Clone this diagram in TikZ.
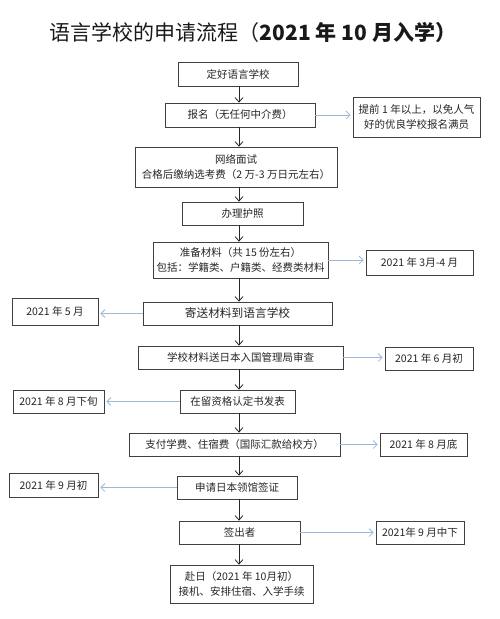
\documentclass[tikz,border=0pt]{standalone}
\usepackage{fontspec}
\setmainfont{Noto Sans CJK SC}
\usetikzlibrary{arrows.meta}
\definecolor{boxc}{HTML}{404040}
\definecolor{sidec}{HTML}{9CB9DA}
\begin{document}
\begin{tikzpicture}[x=1pt,y=-1pt,
  bx/.style={draw=boxc, line width=0.75pt, fill=white, inner sep=0pt, align=center,
    font=\fontsize{10.5}{14.5}\selectfont, text=black!85},
  mainarr/.style={draw=black!85, line width=0.8pt,
    -{Straight Barb[length=4.5pt,width=8pt,line width=0.8pt]}},
  sidearr/.style={draw=sidec, line width=0.8pt,
    -{Straight Barb[length=4pt,width=8pt,line width=0.8pt]}, shorten >=2pt}]
\useasboundingbox (0,0) rectangle (500,619);
\node[font=\fontsize{21}{25}\selectfont, text=black!90] (t) at (253,32)
  {语言学校的申请流程（\textbf{2021 年 10 月入学）}};
\coordinate (ax) at (239,0);
% main column
\node[bx, minimum width=120pt, minimum height=24pt] (b1) at (238,74) {定好语言学校};
\node[bx, minimum width=150pt, minimum height=24pt] (b2) at (240,115) {报名（无任何中介费）};
\node[bx, minimum width=202pt, minimum height=40pt] (b3) at (236,167) {网络面试\\合格后缴纳选考费（2 万-3 万日元左右）};
\node[bx, minimum width=121pt, minimum height=23pt] (b4) at (242.5,213.5) {办理护照};
\node[bx, minimum width=175pt, minimum height=36pt] (b5) at (240.5,260) {准备材料（共 15 份左右）\\包括：学籍类、户籍类、经费类材料};
\node[bx, minimum width=189pt, minimum height=23pt, font=\fontsize{11.7}{14}\selectfont] (b6) at (237.5,313.5) {寄送材料到语言学校};
\node[bx, minimum width=205pt, minimum height=23pt] (b7) at (240.5,357.5) {学校材料送日本入国管理局审查};
\node[bx, minimum width=115pt, minimum height=23pt] (b8) at (237.5,401.5) {在留资格认定书发表};
\node[bx, minimum width=211pt, minimum height=23pt] (b9) at (234.5,444.5) {支付学费、住宿费（国际汇款给校方）};
\node[bx, minimum width=120pt, minimum height=23pt] (b10) at (237,487.5) {申请日本领馆签证};
\node[bx, minimum width=121pt, minimum height=23pt] (b11) at (239.5,532.5) {签出者};
\node[bx, minimum width=143pt, minimum height=38pt] (b12) at (241.5,584) {赴日（2021 年 10月初）\\接机、安排住宿、入学手续};
% side boxes
\node[bx, minimum width=127pt, minimum height=40pt] (s2) at (416.5,117) {提前 1 年以上，以免人气\\好的优良学校报名满员};
\node[bx, minimum width=107pt, minimum height=25pt] (s5) at (419.5,262.5) {2021 年 3月-4 月};
\node[bx, minimum width=86pt, minimum height=27pt] (s6) at (55,311.5) {2021 年 5 月};
\node[bx, minimum width=88pt, minimum height=23pt] (s7) at (429,358.5) {2021 年 6 月初};
\node[bx, minimum width=91pt, minimum height=23pt] (s8) at (58.5,401.5) {2021 年 8 月下旬};
\node[bx, minimum width=87pt, minimum height=23pt] (s9) at (423.5,444.5) {2021 年 8 月底};
\node[bx, minimum width=89pt, minimum height=24pt] (s10) at (53.5,485) {2021 年 9 月初};
\node[bx, minimum width=88pt, minimum height=23pt] (s11) at (420,532.5) {2021年 9 月中下};
% main arrows
\foreach \a/\b in {b1/b2,b2/b3,b3/b4,b4/b5,b5/b6,b6/b7,b7/b8,b8/b9,b9/b10,b10/b11,b11/b12}
  \draw[mainarr] (\a.south -| ax) -- (\b.north -| ax);
% side arrows
\draw[sidearr] (b2.east) -- (s2.west |- b2.east);
\draw[sidearr] (b5.east) -- (s5.west |- b5.east);
\draw[sidearr] (b6.west) -- (s6.east |- b6.west);
\draw[sidearr] (b7.east) -- (s7.west |- b7.east);
\draw[sidearr] (b8.west) -- (s8.east |- b8.west);
\draw[sidearr] (b9.east) -- (s9.west |- b9.east);
\draw[sidearr] (b10.west) -- (s10.east |- b10.west);
\draw[sidearr] (b11.east) -- (s11.west |- b11.east);
\end{tikzpicture}
\end{document}
